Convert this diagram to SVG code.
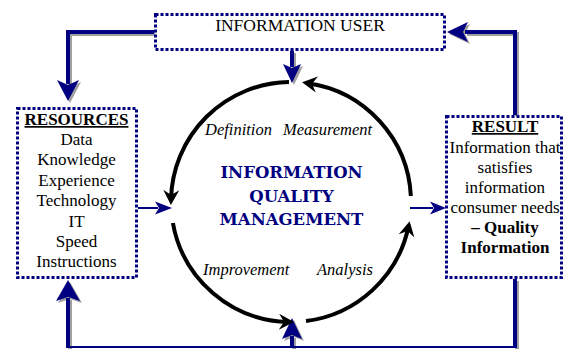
<svg xmlns="http://www.w3.org/2000/svg" xmlns:xlink="http://www.w3.org/1999/xlink" width="564" height="349" viewBox="0 0 564 349">
<style>
.box{fill:#fff;stroke:#000080;stroke-width:3;stroke-dasharray:3 2}
.t{font-family:"Liberation Serif","Times New Roman",serif;fill:#000}
.reg{font-size:17px}
.hdr{font-size:17px;font-weight:bold;text-decoration:underline}
.bld{font-size:17px;font-weight:bold}
.it{font-size:16.5px;font-style:italic}
.ctr{font-family:"DejaVu Serif","Liberation Serif",serif;font-size:16.5px;font-weight:bold;fill:#000080}
.arc{fill:none;stroke:#000;stroke-width:4;marker-end:url(#barb)}
.thin{fill:none;stroke:#000080;stroke-width:2}
</style>
<defs>
<marker id="barb" markerUnits="userSpaceOnUse" viewBox="-16 -9 18 18" markerWidth="18" markerHeight="18" refX="-6" refY="0" orient="auto">
<path d="M0,0 L-15,-8 L-10,0 L-15,8 Z" fill="#000"/>
</marker>
<g id="thick">
<path d="M154,32 H68 V84" fill="none" stroke="currentColor" stroke-width="4"/>
<polygon points="57,80 68,85 79,80 68,101" fill="currentColor"/>
<path d="M292,51 V67" fill="none" stroke="currentColor" stroke-width="4"/>
<polygon points="283,64 292,68 301,64 292,83" fill="currentColor"/>
<path d="M515,115 V32 H465" fill="none" stroke="currentColor" stroke-width="4"/>
<polygon points="468,22 463,32 468,42 447,32" fill="currentColor"/>
<path d="M68,347 V298" fill="none" stroke="currentColor" stroke-width="4"/>
<polygon points="56,301 68,297 80,301 68,280" fill="currentColor"/>
<path d="M292,347 V336" fill="none" stroke="currentColor" stroke-width="4"/>
<polygon points="282,339 292,335 302,339 292,318" fill="currentColor"/>
<path d="M515,279 V347" fill="none" stroke="currentColor" stroke-width="4"/>
</g>
</defs>

<g id="connectors">
<use xlink:href="#thick" color="#a0a0a0" transform="translate(2,2)"/>
<path class="thin" d="M66,347 H517"/>
<use xlink:href="#thick" color="#000080"/>
<path class="thin" d="M138,208 H158"/>
<polygon points="155,201.5 172,208 155,214.5 159,208" fill="#000080"/>
<path class="thin" d="M410,208 H433"/>
<polygon points="430,201.5 446,208 430,214.5 434,208" fill="#000080"/>
</g>

<g id="cycle">
<path class="arc" d="M289,82 A120,120 0 0,0 171.04,199"/>
<path class="arc" d="M172.9,223 A120,120 0 0,0 288,321.96"/>
<path class="arc" d="M306,321.06 A120,120 0 0,0 408.4,227"/>
<path class="arc" d="M410.85,196 A120,120 0 0,0 308,83.2"/>
<text class="t it" x="205" y="135">Definition</text>
<text class="t it" x="283" y="135">Measurement</text>
<text class="t it" x="203" y="275">Improvement</text>
<text class="t it" x="317" y="275">Analysis</text>
</g>

<g id="iqm">
<text class="ctr" text-anchor="middle" x="291.5" y="178">INFORMATION</text>
<text class="ctr" text-anchor="middle" x="291.5" y="202">QUALITY</text>
<text class="ctr" text-anchor="middle" x="291.5" y="225">MANAGEMENT</text>
</g>

<g id="user">
<rect class="box" x="155.5" y="14.5" width="289" height="35"/>
<text class="t" font-size="17.5" text-anchor="middle" x="300" y="31">INFORMATION USER</text>
</g>

<g id="resources">
<rect class="box" x="17.5" y="108.5" width="119" height="169"/>
<g class="t" text-anchor="middle">
<text class="hdr" x="76.5" y="125">RESOURCES</text>
<text class="reg" x="76.5" y="145">Data</text>
<text class="reg" x="76.5" y="165.4">Knowledge</text>
<text class="reg" x="76.5" y="185.8">Experience</text>
<text class="reg" x="76.5" y="206.2">Technology</text>
<text class="reg" x="76.5" y="226.6">IT</text>
<text class="reg" x="76.5" y="247">Speed</text>
<text class="reg" x="76.5" y="267.4">Instructions</text>
</g>
</g>

<g id="result">
<rect class="box" x="446.5" y="116.5" width="115" height="161"/>
<g class="t" text-anchor="middle">
<text class="hdr" x="505" y="132">RESULT</text>
<text class="reg" x="505" y="153">Information that</text>
<text class="reg" x="505" y="173">satisfies</text>
<text class="reg" x="505" y="193">information</text>
<text class="reg" x="505" y="213">consumer needs</text>
<text class="bld" x="505" y="233">– Quality</text>
<text class="bld" x="505" y="253">Information</text>
</g>
</g>
</svg>
